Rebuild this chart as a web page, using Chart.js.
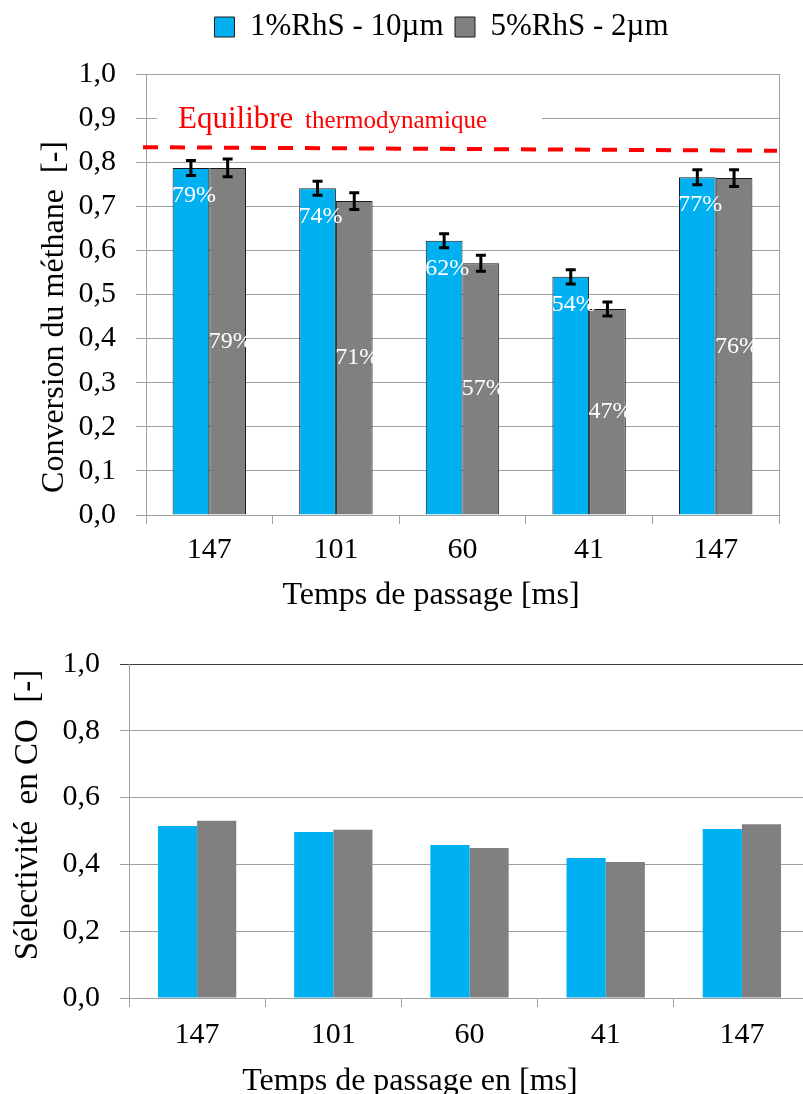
<!DOCTYPE html>
<html>
<head>
<meta charset="utf-8">
<script src="https://cdn.jsdelivr.net/npm/chart.js@4.4.0/dist/chart.umd.min.js"></script>
<style>
    html, body { margin: 0; padding: 0; background: #fff; overflow: hidden; width: 803px; height: 1094px; }
    #conversionChart { position: absolute; left: 0; top: 0; }
    #selectivityChart { position: absolute; left: 0; top: 620px; }
</style>
</head>
<body>
<canvas id="conversionChart" width="883" height="620"></canvas>
<canvas id="selectivityChart" width="830" height="474"></canvas>
<script>
// Data
const categories = ['147', '101', '60', '41', '147'];
const seriesNames = ['1%RhS - 10µm', '5%RhS - 2µm'];

// Conversion du méthane [-]
const conversion1 = [0.787, 0.741, 0.622, 0.540, 0.766];
const conversion5 = [0.787, 0.712, 0.571, 0.467, 0.764];
const conversionErr1 = [0.017, 0.016, 0.016, 0.016, 0.017];
const conversionErr5 = [0.020, 0.019, 0.018, 0.016, 0.019];
const conversionStep = 0.1;

// Equilibre thermodynamique, value at the left and right end of the dashed line
const equilibrium = [0.834, 0.826];

// Sélectivité en CO [-]
const selectivity1 = [0.515, 0.497, 0.458, 0.419, 0.506];
const selectivity5 = [0.531, 0.504, 0.449, 0.407, 0.520];
const selectivityStep = 0.2;

const serif = '"Liberation Serif", "Times New Roman", serif';
const gridGray = '#a0a0a0';
const blue = '#00b0f0';
const gray = '#808080';

const commaTick = v => v.toFixed(1).replace('.', ',');

// Error bars (black, with caps)
const errorBars = {
    id: 'errorBars',
    afterDatasetsDraw(chart) {
        const ctx = chart.ctx;
        const y = chart.scales.y;
        chart.data.datasets.forEach((ds, i) => {
            if (!ds.errors) return;
            chart.getDatasetMeta(i).data.forEach((bar, j) => {
                const hi = y.getPixelForValue(ds.data[j] + ds.errors[j]);
                const lo = y.getPixelForValue(ds.data[j] - ds.errors[j]);
                ctx.save();
                ctx.strokeStyle = '#000';
                ctx.lineWidth = 3;
                ctx.beginPath();
                ctx.moveTo(bar.x, hi); ctx.lineTo(bar.x, lo);
                ctx.moveTo(bar.x - 5, hi); ctx.lineTo(bar.x + 5, hi);
                ctx.moveTo(bar.x - 5, lo); ctx.lineTo(bar.x + 5, lo);
                ctx.stroke();
                ctx.restore();
            });
        });
    }
};

// White percentage labels inside the bars
const valueLabels = {
    id: 'valueLabels',
    afterDatasetsDraw(chart) {
        const ctx = chart.ctx;
        ctx.save();
        ctx.font = '24px ' + serif;
        ctx.fillStyle = '#fff';
        ctx.textAlign = 'center';
        ctx.textBaseline = 'middle';
        chart.data.datasets.forEach((ds, i) => {
            if (!ds.labelPos) return;
            chart.getDatasetMeta(i).data.forEach((bar, j) => {
                const ly = ds.labelPos === 'end' ? bar.y + 28 : (bar.y + bar.base) / 2;
                ctx.fillText(Math.round(ds.data[j] * 100) + '%', bar.x + 3, ly);
            });
        });
        ctx.restore();
    }
};

// Red dashed equilibrium line + caption
const equilibriumLine = {
    id: 'equilibriumLine',
    beforeDatasetsDraw(chart) {
        const {ctx, chartArea: a} = chart;
        const y = chart.scales.y;
        ctx.save();
        ctx.fillStyle = '#fff';
        ctx.fillRect(a.left + 11, y.getPixelForValue(0.9) - 20, 385, 40);
        ctx.fillStyle = '#ff0000';
        ctx.textBaseline = 'alphabetic';
        const tx = a.left + 32, ty = a.top + 54;
        ctx.font = '31px ' + serif;
        ctx.fillText('Equilibre', tx, ty);
        const w = ctx.measureText('Equilibre ').width;
        ctx.font = '25px ' + serif;
        ctx.fillText('thermodynamique', tx + w + 4, ty);
        ctx.restore();
    },
    afterDatasetsDraw(chart) {
        const {ctx, chartArea: a} = chart;
        const y = chart.scales.y;
        ctx.save();
        ctx.strokeStyle = '#ff0000';
        ctx.lineWidth = 4;
        ctx.setLineDash([15, 12]);
        ctx.beginPath();
        ctx.moveTo(a.left - 3, y.getPixelForValue(equilibrium[0]));
        ctx.lineTo(a.right - 2, y.getPixelForValue(equilibrium[1]));
        ctx.stroke();
        ctx.restore();
    }
};

// Axis titles placed where the original has them (not centred on the plot)
const axisTitles = {
    id: 'axisTitles',
    afterDraw(chart, args, opts) {
        const ctx = chart.ctx;
        ctx.save();
        ctx.fillStyle = '#000';
        ctx.textAlign = 'center';
        ctx.textBaseline = 'alphabetic';
        ctx.font = opts.xSize + 'px ' + serif;
        ctx.fillText(opts.xText, opts.xCenter, opts.xBaseline);
        ctx.font = opts.ySize + 'px ' + serif;
        ctx.translate(opts.yBaseline, opts.yCenter);
        ctx.rotate(-Math.PI / 2);
        ctx.fillText(opts.yText, 0, 0);
        ctx.restore();
    }
};

const tickFont = { family: serif, size: 30 };

// Top chart: Conversion du méthane
new Chart(document.getElementById('conversionChart'), {
    type: 'bar',
    data: {
        labels: categories,
        datasets: [
            {
                label: seriesNames[0],
                data: conversion1,
                errors: conversionErr1,
                labelPos: 'end',
                backgroundColor: blue,
                borderColor: '#1a1a1a',
                borderWidth: 1,
                xAxisID: 'x',
                yAxisID: 'y'
            },
            {
                label: seriesNames[1],
                data: conversion5,
                errors: conversionErr5,
                labelPos: 'middle',
                backgroundColor: gray,
                borderColor: '#1a1a1a',
                borderWidth: 1,
                xAxisID: 'x',
                yAxisID: 'y'
            }
        ]
    },
    options: {
        responsive: false,
        animation: false,
        layout: { padding: 0 },
        datasets: { bar: { categoryPercentage: 0.58, barPercentage: 1 } },
        scales: {
            x: {
                position: 'bottom',
                grid: { offset: true, drawOnChartArea: false, color: gridGray, tickLength: 9 },
                border: { color: gridGray },
                ticks: { font: tickFont, color: '#000', padding: 8 },
                afterFit: s => { s.height = 105; }
            },
            xTop: {
                type: 'category',
                position: 'top',
                grid: { display: false },
                ticks: { display: false },
                border: { display: false },
                afterFit: s => { s.height = 21.5; }
            },
            y: {
                min: 0,
                max: 1,
                ticks: { stepSize: conversionStep, font: tickFont, color: '#000', padding: 20, callback: commaTick },
                grid: { color: gridGray, tickLength: 10 },
                border: { color: gridGray },
                afterFit: s => { s.width = 146; }
            },
            yRight: {
                position: 'right',
                grid: { display: false },
                ticks: { display: false },
                border: { display: true, color: gridGray },
                afterFit: s => { s.width = 104; }
            }
        },
        plugins: {
            legend: {
                position: 'top',
                align: 'center',
                labels: {
                    font: { family: serif, size: 31 },
                    color: '#000',
                    boxWidth: 20,
                    boxHeight: 20,
                    padding: 11.5
                }
            },
            tooltip: { enabled: false },
            axisTitles: {
                xText: 'Temps de passage [ms]', xSize: 32, xCenter: 431, xBaseline: 604,
                yText: 'Conversion du méthane  [-]', ySize: 32, yCenter: 317, yBaseline: 63
            }
        }
    },
    plugins: [equilibriumLine, errorBars, valueLabels, axisTitles]
});

// Bottom chart: Sélectivité en CO
new Chart(document.getElementById('selectivityChart'), {
    type: 'bar',
    data: {
        labels: categories,
        datasets: [
            { label: seriesNames[0], data: selectivity1, backgroundColor: blue, borderWidth: 0 },
            { label: seriesNames[1], data: selectivity5, backgroundColor: gray, borderWidth: 0 }
        ]
    },
    options: {
        responsive: false,
        animation: false,
        layout: { padding: { top: 44, right: 20, left: 0, bottom: 0 } },
        datasets: { bar: { categoryPercentage: 0.575, barPercentage: 1 } },
        scales: {
            x: {
                grid: { offset: true, drawOnChartArea: false, color: gridGray, tickLength: 9 },
                border: { color: gridGray },
                ticks: { font: tickFont, color: '#000', padding: 10 },
                afterFit: s => { s.height = 96; }
            },
            y: {
                min: 0,
                max: 1,
                ticks: { stepSize: selectivityStep, font: tickFont, color: '#000', padding: 20, callback: commaTick },
                grid: {
                    color: c => (c.tick && c.tick.value === 1 ? '#404040' : gridGray),
                    tickLength: 9
                },
                border: { color: gridGray },
                afterFit: s => { s.width = 129; }
            }
        },
        plugins: {
            legend: { display: false },
            tooltip: { enabled: false },
            axisTitles: {
                xText: 'Temps de passage en [ms]', xSize: 32, xCenter: 410, xBaseline: 470,
                yText: 'Sélectivité  en CO  [-]', ySize: 33, yCenter: 195, yBaseline: 37
            }
        }
    },
    plugins: [axisTitles]
});
</script>
</body>
</html>
